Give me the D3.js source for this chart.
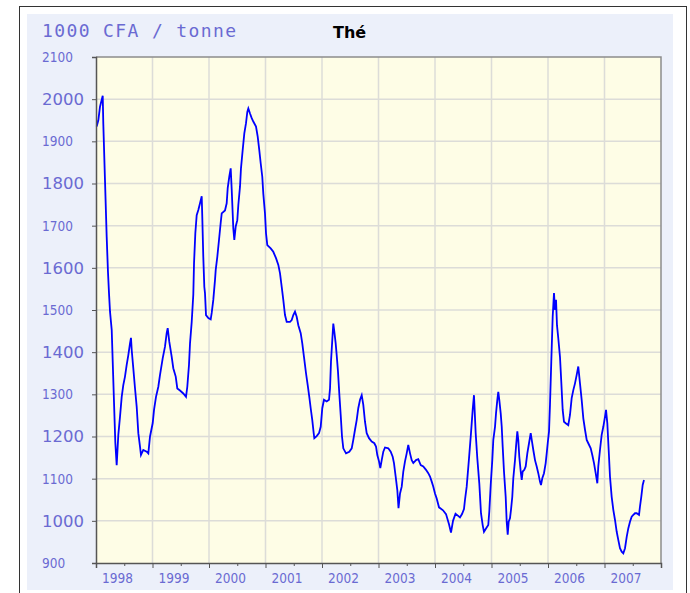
<!DOCTYPE html>
<html>
<head>
<meta charset="utf-8">
<script src="https://cdnjs.cloudflare.com/ajax/libs/d3/7.8.5/d3.min.js"></script>
<style>
  body { margin: 0; background: #ffffff; }
  svg { display: block; }
</style>
</head>
<body>
<div id="chart"></div>
<script>
// data (decimal years, price in 1000 CFA / tonne)
var dates = [
  1998.012, 1998.041, 1998.071, 1998.119, 1998.129, 1998.159, 1998.189, 1998.212, 1998.230, 1998.248,
  1998.278, 1998.296, 1998.319, 1998.342, 1998.366, 1998.395, 1998.425, 1998.455, 1998.483, 1998.513,
  1998.543, 1998.572, 1998.602, 1998.619, 1998.632, 1998.660, 1998.690, 1998.720, 1998.749, 1998.779,
  1998.796, 1998.837, 1998.897, 1998.926, 1998.956, 1999.004, 1999.027, 1999.062, 1999.103, 1999.133,
  1999.181, 1999.221, 1999.251, 1999.269, 1999.297, 1999.340, 1999.368, 1999.411, 1999.439, 1999.487,
  1999.545, 1999.593, 1999.616, 1999.646, 1999.664, 1999.694, 1999.722, 1999.735, 1999.758, 1999.782,
  1999.811, 1999.841, 1999.871, 1999.881, 1999.899, 1999.917, 1999.929, 1999.947, 1999.988, 2000.030,
  2000.048, 2000.076, 2000.106, 2000.119, 2000.147, 2000.177, 2000.207, 2000.225, 2000.283, 2000.313,
  2000.331, 2000.359, 2000.384, 2000.402, 2000.430, 2000.448, 2000.473, 2000.501, 2000.519, 2000.549,
  2000.566, 2000.596, 2000.625, 2000.655, 2000.678, 2000.696, 2000.726, 2000.756, 2000.784, 2000.832,
  2000.862, 2000.890, 2000.915, 2000.943, 2000.961, 2000.991, 2001.009, 2001.032, 2001.092, 2001.138,
  2001.186, 2001.227, 2001.257, 2001.287, 2001.315, 2001.345, 2001.375, 2001.434, 2001.464, 2001.492,
  2001.522, 2001.552, 2001.581, 2001.623, 2001.651, 2001.681, 2001.717, 2001.747, 2001.775, 2001.800,
  2001.828, 2001.853, 2001.864, 2001.906, 2001.947, 2001.977, 2002.005, 2002.035, 2002.083, 2002.124,
  2002.142, 2002.159, 2002.182, 2002.200, 2002.218, 2002.242, 2002.260, 2002.283, 2002.306, 2002.331,
  2002.354, 2002.377, 2002.425, 2002.483, 2002.526, 2002.554, 2002.584, 2002.614, 2002.642, 2002.673,
  2002.703, 2002.731, 2002.761, 2002.791, 2002.832, 2002.880, 2002.926, 2002.956, 2002.979, 2003.009,
  2003.032, 2003.057, 2003.085, 2003.115, 2003.173, 2003.216, 2003.251, 2003.274, 2003.304, 2003.333,
  2003.354, 2003.381, 2003.411, 2003.439, 2003.469, 2003.499, 2003.527, 2003.558, 2003.588, 2003.616,
  2003.664, 2003.704, 2003.747, 2003.793, 2003.841, 2003.881, 2003.912, 2003.942, 2003.970, 2004.000,
  2004.030, 2004.071, 2004.142, 2004.195, 2004.248, 2004.283, 2004.319, 2004.363, 2004.442, 2004.478,
  2004.513, 2004.531, 2004.561, 2004.602, 2004.637, 2004.667, 2004.690, 2004.720, 2004.749, 2004.784,
  2004.814, 2004.844, 2004.867, 2004.903, 2004.943, 2004.961, 2004.986, 2005.014, 2005.032, 2005.062,
  2005.080, 2005.103, 2005.120, 2005.138, 2005.163, 2005.181, 2005.198, 2005.221, 2005.251, 2005.269,
  2005.287, 2005.304, 2005.327, 2005.345, 2005.368, 2005.386, 2005.416, 2005.434, 2005.457, 2005.474,
  2005.492, 2005.517, 2005.535, 2005.552, 2005.581, 2005.605, 2005.634, 2005.664, 2005.694, 2005.717,
  2005.740, 2005.770, 2005.800, 2005.828, 2005.858, 2005.876, 2005.899, 2005.929, 2005.959, 2005.977,
  2005.995, 2006.018, 2006.035, 2006.058, 2006.083, 2006.106, 2006.124, 2006.142, 2006.159, 2006.182,
  2006.212, 2006.235, 2006.260, 2006.283, 2006.319, 2006.359, 2006.389, 2006.419, 2006.448, 2006.478,
  2006.508, 2006.536, 2006.566, 2006.596, 2006.625, 2006.655, 2006.685, 2006.713, 2006.756, 2006.784,
  2006.814, 2006.844, 2006.873, 2006.890, 2006.920, 2006.950, 2006.979, 2007.009, 2007.027, 2007.050,
  2007.074, 2007.097, 2007.127, 2007.156, 2007.186, 2007.216, 2007.244, 2007.274, 2007.304, 2007.333,
  2007.363, 2007.393, 2007.421, 2007.451, 2007.481, 2007.510, 2007.540, 2007.570, 2007.611, 2007.628,
  2007.651, 2007.676, 2007.699
];

var prices = [
  1935, 1950, 1982, 2008, 1943, 1808, 1674, 1590, 1540, 1496,
  1453, 1377, 1280, 1185, 1132, 1204, 1247, 1294, 1322, 1342,
  1370, 1393, 1421, 1434, 1405, 1362, 1315, 1271, 1208, 1176,
  1156, 1168, 1164, 1160, 1200, 1232, 1263, 1294, 1318, 1346,
  1386, 1413, 1445, 1457, 1425, 1389, 1362, 1342, 1314, 1309,
  1302, 1294, 1318, 1370, 1421, 1472, 1536, 1611, 1682, 1725,
  1737, 1753, 1770, 1721, 1626, 1555, 1540, 1488, 1481, 1478,
  1493, 1524, 1571, 1595, 1626, 1666, 1707, 1729, 1736, 1753,
  1789, 1816, 1836, 1785, 1694, 1666, 1698, 1713, 1749, 1793,
  1836, 1879, 1919, 1943, 1970, 1978, 1966, 1955, 1947, 1935,
  1911, 1879, 1848, 1816, 1776, 1729, 1682, 1654, 1646, 1638,
  1623, 1607, 1587, 1555, 1524, 1488, 1472, 1472, 1476, 1488,
  1496, 1484, 1464, 1445, 1421, 1389, 1350, 1322, 1294, 1267,
  1239, 1208, 1196, 1201, 1208, 1223, 1267, 1287, 1283, 1287,
  1314, 1377, 1429, 1468, 1449, 1421, 1393, 1354, 1302, 1251,
  1200, 1172, 1160, 1164, 1172, 1192, 1216, 1239, 1267, 1287,
  1298, 1275, 1235, 1208, 1196, 1188, 1184, 1176, 1156, 1141,
  1125, 1144, 1164, 1174, 1172, 1164, 1152, 1137, 1105, 1073,
  1030, 1065, 1081, 1117, 1141, 1160, 1180, 1160, 1144, 1137,
  1144, 1146, 1132, 1129, 1121, 1113, 1105, 1093, 1081, 1065,
  1053, 1032, 1025, 1016, 992, 972, 1000, 1017, 1008, 1016,
  1028, 1050, 1081, 1148, 1208, 1263, 1298, 1208, 1148, 1089,
  1018, 990, 974, 982, 990, 1022, 1085, 1144, 1192, 1223,
  1255, 1287, 1306, 1287, 1255, 1223, 1176, 1117, 1057, 998,
  967, 998, 1006, 1026, 1057, 1101, 1144, 1176, 1212, 1192,
  1152, 1117, 1097, 1117, 1121, 1129, 1160, 1184, 1208, 1188,
  1168, 1144, 1129, 1113, 1093, 1085, 1101, 1113, 1137, 1160,
  1184, 1212, 1275, 1377, 1484, 1540, 1500, 1524, 1464, 1433,
  1389, 1330, 1263, 1235, 1231, 1227, 1251, 1291, 1310, 1326,
  1346, 1366, 1326, 1287, 1243, 1216, 1192, 1184, 1172, 1156,
  1137, 1113, 1089, 1129, 1168, 1204, 1223, 1247, 1263, 1231,
  1168, 1105, 1057, 1026, 1002, 974, 955, 935, 927, 923,
  935, 962, 982, 998, 1010, 1014, 1018, 1018, 1014, 1034,
  1057, 1085, 1097
];

var yTicks = [900, 1000, 1100, 1200, 1300, 1400, 1500, 1600, 1700, 1800, 1900, 2000, 2100];
var yearTicks = [1998, 1999, 2000, 2001, 2002, 2003, 2004, 2005, 2006, 2007, 2008];
var yearLabels = ["1998", "1999", "2000", "2001", "2002", "2003", "2004", "2005", "2006", "2007"];
var unitTitle = "1000 CFA / tonne";
var productTitle = "Thé";

var width = 690;
var height = 593;
var margin = { top: 57, left: 96, right: 29, bottom: 30 };
var plotWidth = width - margin.left - margin.right;
var plotHeight = height - margin.top - margin.bottom;
var labelColor = "#6a6ad2";

var svg = d3.select("#chart")
  .append("svg")
    .attr("width", width)
    .attr("height", height);

// outer frame + panel
svg.append("rect")
  .attr("x", 19.5).attr("y", 6.5)
  .attr("width", 667).attr("height", 600)
  .attr("fill", "#ffffff")
  .attr("stroke", "#333333");

svg.append("rect")
  .attr("x", 27).attr("y", 14)
  .attr("width", 646).attr("height", 576)
  .attr("fill", "#ecf0fa");

var g = svg.append("g")
  .attr("transform", "translate(" + margin.left + "," + margin.top + ")");

var x = d3.scaleLinear()
  .domain([1998, 2008])
  .range([0, plotWidth]);

var y = d3.scaleLinear()
  .domain([900, 2100])
  .range([plotHeight, 0]);

g.append("rect")
  .attr("width", plotWidth)
  .attr("height", plotHeight)
  .attr("fill", "#fefde6");

// grid
g.append("g")
  .selectAll("line")
  .data(yTicks.slice(1, -1))
  .enter()
  .append("line")
  .attr("x1", 0).attr("x2", plotWidth)
  .attr("y1", function(d) { return y(d); })
  .attr("y2", function(d) { return y(d); })
  .attr("stroke", "#dcdcd8")
  .attr("stroke-width", 1.5);

g.append("g")
  .selectAll("line")
  .data(yearTicks.slice(1, -1))
  .enter()
  .append("line")
  .attr("y1", 0).attr("y2", plotHeight)
  .attr("x1", function(d) { return x(d); })
  .attr("x2", function(d) { return x(d); })
  .attr("stroke", "#dcdcd8")
  .attr("stroke-width", 1.5);

// top / right border
g.append("path")
  .attr("d", "M0,0H" + plotWidth + "V" + plotHeight)
  .attr("fill", "none")
  .attr("stroke", "#8c8c8c")
  .attr("stroke-width", 1.5);

// the price line
g.append("path")
  .datum(d3.zip(dates, prices))
  .attr("fill", "none")
  .attr("stroke", "#0000ff")
  .attr("stroke-width", 1.8)
  .attr("d", d3.line()
    .x(function(d) { return x(d[0]); })
    .y(function(d) { return y(d[1]); })
  );

// y axis
var yAxis = d3.axisLeft(y).tickValues(yTicks).tickSize(4).tickFormat("");
var yg = g.append("g").call(yAxis);
yg.select(".domain").attr("stroke", "#555555").attr("stroke-width", 1.5);
yg.selectAll(".tick line").attr("stroke", "#555555");

g.append("g")
  .selectAll("text")
  .data(yTicks)
  .enter()
  .append("text")
  .attr("x", 42 - margin.left)
  .attr("y", function(d) { return y(d); })
  .attr("dy", "0.36em")
  .attr("fill", labelColor)
  .style("font-family", function(d) { return (d / 100) % 2 === 0 ? "DejaVu Sans" : "DejaVu Sans Condensed"; })
  .style("font-size", function(d) { return (d / 100) % 2 === 0 ? "16.5px" : "13.5px"; })
  .text(function(d) { return d; });

// x axis: year ticks + mid-year minor ticks
var xAxis = d3.axisBottom(x).tickValues(yearTicks).tickSize(5).tickFormat("");
var xg = g.append("g")
  .attr("transform", "translate(0," + plotHeight + ")")
  .call(xAxis);
xg.select(".domain").attr("stroke", "#555555").attr("stroke-width", 1.5);
xg.selectAll(".tick line").attr("stroke", "#555555");

var xMinor = d3.axisBottom(x)
  .tickValues(yearTicks.slice(0, -1).map(function(d) { return d + 0.5; }))
  .tickSize(3).tickFormat("");
var xm = g.append("g")
  .attr("transform", "translate(0," + plotHeight + ")")
  .call(xMinor);
xm.select(".domain").remove();
xm.selectAll(".tick line").attr("stroke", "#555555");

g.append("g")
  .selectAll("text")
  .data(yearLabels)
  .enter()
  .append("text")
  .attr("x", function(d) { return x(+d + 0.38); })
  .attr("y", plotHeight + 20)
  .attr("text-anchor", "middle")
  .attr("fill", labelColor)
  .style("font-family", "DejaVu Sans Condensed")
  .style("font-size", "13.5px")
  .text(function(d) { return d; });

// titles
svg.append("text")
  .attr("x", 42)
  .attr("y", 37)
  .attr("fill", labelColor)
  .attr("textLength", 194)
  .attr("lengthAdjust", "spacing")
  .style("font-family", "DejaVu Sans Mono")
  .style("font-size", "18px")
  .text(unitTitle);

svg.append("text")
  .attr("x", 333)
  .attr("y", 38)
  .attr("fill", "#000000")
  .style("font-family", "DejaVu Sans")
  .style("font-weight", "bold")
  .style("font-size", "16px")
  .text(productTitle);
</script>
</body>
</html>
